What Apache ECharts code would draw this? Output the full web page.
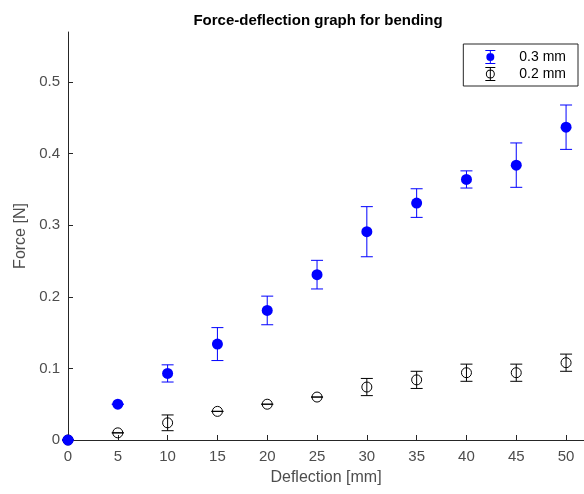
<!DOCTYPE html>
<html>
<head>
<meta charset="utf-8">
<script src="https://cdn.jsdelivr.net/npm/echarts@6/dist/echarts.min.js"></script>
<style>
html,body{margin:0;padding:0;background:#fff;}
#chart{width:584px;height:494px;}
</style>
</head>
<body>
<div id="chart"></div>
<script>
var deflection = [0, 5, 10, 15, 20, 25, 30, 35, 40, 45, 50];
var force03 = [0, 0.050, 0.093, 0.134, 0.181, 0.231, 0.291, 0.331, 0.364, 0.384, 0.437];
var err03   = [0, 0, 0.012, 0.023, 0.020, 0.020, 0.035, 0.020, 0.012, 0.031, 0.031];
var force02 = [0, 0.010, 0.024, 0.040, 0.050, 0.060, 0.074, 0.084, 0.094, 0.094, 0.108];
var err02   = [0, 0, 0.011, 0, 0, 0, 0.012, 0.012, 0.012, 0.012, 0.012];
var xTicks = [0, 5, 10, 15, 20, 25, 30, 35, 40, 45, 50];
var yTicks = [0, 0.1, 0.2, 0.3, 0.4, 0.5];
var seriesNames = ['0.3 mm', '0.2 mm'];

var chart = echarts.init(document.getElementById('chart'));

function pts(ys) { return deflection.map(function (x, i) { return [x, ys[i]]; }); }
function errData(ys, es) { return deflection.map(function (x, i) { return [x, ys[i] - es[i], ys[i] + es[i]]; }); }

function errRender(color) {
  return function (params, api) {
    var x = api.value(0);
    var lo = api.coord([x, api.value(1)]);
    var hi = api.coord([x, api.value(2)]);
    var hw = 6;
    var st = { stroke: color, lineWidth: 1 };
    return {
      type: 'group',
      children: [
        { type: 'line', shape: { x1: lo[0], y1: lo[1], x2: hi[0], y2: hi[1] }, style: st },
        { type: 'line', shape: { x1: lo[0] - hw, y1: lo[1], x2: lo[0] + hw, y2: lo[1] }, style: st },
        { type: 'line', shape: { x1: hi[0] - hw, y1: hi[1], x2: hi[0] + hw, y2: hi[1] }, style: st }
      ]
    };
  };
}

var iconBlue = 'path://M1 0H11V1H1Z M1 13H11V14H1Z M5.5 0H6.5V14H5.5Z M2 7A4 4 0 1 1 10 7A4 4 0 1 1 2 7Z';
var iconBlack = 'path://M1 0H11V1H1Z M1 13H11V14H1Z M5.5 0H6.5V14H5.5Z M1.5 7A4.5 4.5 0 1 1 10.5 7A4.5 4.5 0 1 1 1.5 7Z M2.5 7A3.5 3.5 0 1 0 9.5 7A3.5 3.5 0 1 0 2.5 7Z';

var axisCol = '#262626';
var labCol = '#4d4d4d';
var ff = 'Liberation Sans, Arial, sans-serif';

chart.setOption({
  animation: false,
  backgroundColor: '#fff',
  title: {
    text: 'Force-deflection graph for bending',
    left: 313, textAlign: 'center', top: 8,
    textStyle: { fontFamily: ff, fontSize: 15, fontWeight: 'bold', color: '#000' }
  },
  legend: {
    orient: 'vertical',
    right: 6, top: 44,
    itemWidth: 12, itemHeight: 14,
    itemGap: 3,
    padding: [6, 12, 5, 22],
    borderColor: '#262626', borderWidth: 1,
    backgroundColor: '#fff',
    textStyle: { fontFamily: ff, fontSize: 14, color: '#000', padding: [0, 0, 0, 18] },
    data: [
      { name: seriesNames[0], icon: iconBlue, itemStyle: { color: '#0000ff', borderWidth: 0 } },
      { name: seriesNames[1], icon: iconBlack, itemStyle: { color: '#000', borderWidth: 0 } }
    ]
  },
  grid: { left: 68, right: 0, top: 32, bottom: 54 },
  xAxis: {
    type: 'value', min: 0, max: 51.8, interval: 5,
    name: 'Deflection [mm]', nameLocation: 'middle', nameGap: 30,
    nameTextStyle: { fontFamily: ff, fontSize: 16, color: labCol },
    axisLine: { show: true, onZero: false, lineStyle: { color: axisCol, width: 1 } },
    axisTick: { show: true, inside: true, length: 5, customValues: xTicks, lineStyle: { color: axisCol } },
    axisLabel: { customValues: xTicks, margin: 9, fontFamily: ff, fontSize: 15, color: labCol },
    splitLine: { show: false }
  },
  yAxis: {
    type: 'value', min: 0, max: 0.57, interval: 0.1,
    name: 'Force [N]', nameLocation: 'middle', nameGap: 33,
    nameTextStyle: { fontFamily: ff, fontSize: 16, color: labCol },
    axisLine: { show: true, onZero: false, lineStyle: { color: axisCol, width: 1 } },
    axisTick: { show: true, inside: true, length: 5, customValues: yTicks, lineStyle: { color: axisCol } },
    axisLabel: { customValues: yTicks, margin: 8, fontFamily: ff, fontSize: 15, color: labCol },
    splitLine: { show: false }
  },
  series: [
    {
      name: 'err02', type: 'custom', renderItem: errRender('#000'),
      data: errData(force02, err02), z: 2, silent: true
    },
    {
      name: seriesNames[1], type: 'scatter', data: pts(force02),
      symbol: 'circle', symbolSize: 10,
      itemStyle: { color: 'rgba(0,0,0,0)', borderColor: '#000', borderWidth: 1, opacity: 1 },
      z: 3
    },
    {
      name: 'err03', type: 'custom', renderItem: errRender('#0000ff'),
      data: errData(force03, err03), z: 4, silent: true
    },
    {
      name: seriesNames[0], type: 'scatter', data: pts(force03),
      symbol: 'circle', symbolSize: 11,
      itemStyle: { color: '#0000ff', opacity: 1 },
      z: 5
    }
  ]
});
</script>
</body>
</html>
